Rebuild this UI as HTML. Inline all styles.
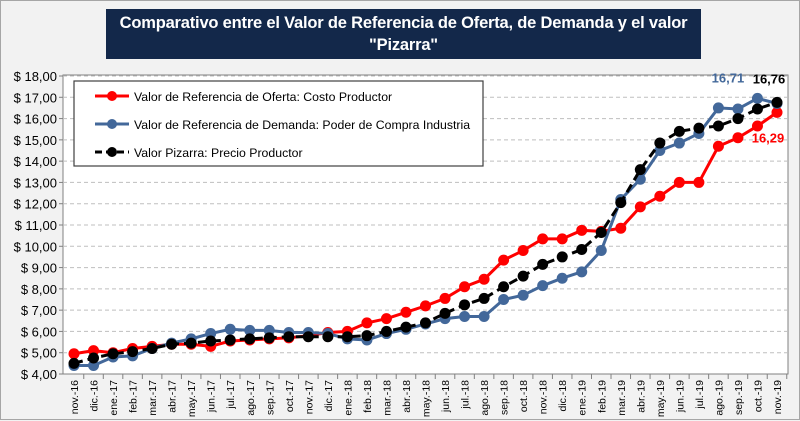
<!DOCTYPE html>
<html><head><meta charset="utf-8"><style>
body{margin:0;width:800px;height:420px;background:#f2f2f2;font-family:"Liberation Sans",sans-serif;overflow:hidden}
#wrap{position:absolute;left:0;top:0;width:798px;height:418px;border:1px solid #a6a6a6;background:#f2f2f2}
#title{position:absolute;left:105px;top:8px;width:595px;height:50px;background:#13284a;color:#fff;font-weight:bold;font-size:16.5px;text-align:center;line-height:22px;padding-top:3px;box-sizing:border-box;white-space:nowrap;letter-spacing:-0.2px}
svg{position:absolute;left:0;top:0}
</style></head><body>
<div id="wrap">
<div id="title">Comparativo entre el Valor de Referencia de Oferta, de Demanda y el valor<br>"Pizarra"</div>
<svg id="c" width="800" height="420"></svg>
</div>
<script>
const categories=["nov.-16","dic.-16","ene.-17","feb.-17","mar.-17","abr.-17","may.-17","jun.-17","jul.-17","ago.-17","sep.-17","oct.-17","nov.-17","dic.-17","ene.-18","feb.-18","mar.-18","abr.-18","may.-18","jun.-18","jul.-18","ago.-18","sep.-18","oct.-18","nov.-18","dic.-18","ene.-19","feb.-19","mar.-19","abr.-19","may.-19","jun.-19","jul.-19","ago.-19","sep.-19","oct.-19","nov.-19"];
const oferta=[4.95,5.1,5.0,5.2,5.3,5.4,5.4,5.3,5.55,5.6,5.65,5.7,5.8,5.95,6.0,6.4,6.6,6.9,7.2,7.55,8.1,8.45,9.35,9.8,10.35,10.35,10.75,10.7,10.85,11.85,12.35,13.0,13.0,14.7,15.1,15.65,16.29];
const demanda=[4.4,4.4,4.8,4.85,5.2,5.45,5.65,5.9,6.1,6.05,6.05,5.95,5.95,5.9,5.65,5.6,5.9,6.1,6.35,6.6,6.7,6.7,7.5,7.7,8.15,8.5,8.8,9.8,12.2,13.15,14.5,14.85,15.3,16.5,16.45,16.95,16.71];
const pizarra=[4.5,4.75,4.95,5.05,5.2,5.4,5.45,5.55,5.6,5.65,5.7,5.75,5.75,5.75,5.75,5.8,6.0,6.2,6.4,6.85,7.25,7.55,8.1,8.6,9.15,9.5,9.85,10.65,12.05,13.6,14.85,15.4,15.55,15.65,16.0,16.45,16.76];
const yTicks=[4,5,6,7,8,9,10,11,12,13,14,15,16,17,18];
const L=62,R=787,T=75,B=373,ymin=4,ymax=18;
const svg=document.getElementById('c'),NS='http://www.w3.org/2000/svg';
function x(i){return L+11+i*(R-L-22)/(categories.length-1);}
function y(v){return B-(v-ymin)/(ymax-ymin)*(B-T);}
function el(t,a,p){const e=document.createElementNS(NS,t);for(const k in a)e.setAttribute(k,a[k]);(p||svg).appendChild(e);return e;}
const bg=el('rect',{x:L,y:T-1,width:R-L,height:B-T+1,fill:'#fff',stroke:'#808080'});


yTicks.forEach(v=>{
 if(v>ymin){const g=el('line',{x1:L,x2:R,y1:y(v),y2:y(v),stroke:'#bfbfbf','stroke-dasharray':'4,3'});
 
 }
 const t=el('text',{x:56,y:y(v)+5,'text-anchor':'end','font-size':'13',fill:'#000'});
 t.textContent='$ '+v.toFixed(2).replace('.',',');
 
 
 el('line',{x1:L-4,x2:L,y1:y(v),y2:y(v),stroke:'#808080'});
});
categories.forEach((c,i)=>{
 const xx=x(i);
 el('line',{x1:xx+(R-L-22)/72,x2:xx+(R-L-22)/72,y1:B,y2:B+5,stroke:'#808080'});
 const t=el('text',{x:0,y:0,'font-size':'10.5',fill:'#000','text-anchor':'end',transform:`translate(${xx+4},${B+6}) rotate(-90)`});
 t.textContent=c;
 
 
});
function series(data,color,dash,name){
 const g=el('g',{});
 
 
 el('polyline',{points:data.map((v,i)=>x(i)+','+y(v)).join(' '),fill:'none',stroke:color,'stroke-width':3,'stroke-dasharray':dash||'none'},g);
 data.forEach((v,i)=>{const c=el('circle',{cx:x(i),cy:y(v),r:5.5,fill:color},g);
 
 });
}
series(oferta,'#ff0000','', 'series-oferta');
series(demanda,'#43689a','', 'series-demanda');
series(pizarra,'#000000','9,5','series-pizarra');
function lab(txt,xx,yy,col,n){const t=el('text',{x:xx,y:yy,'font-size':'13','font-weight':'bold',fill:col,'text-anchor':'middle'});t.textContent=txt;
 
 }
const n=categories.length-1;
lab('16,71',x(n-2)-10,y(demanda[n])-21,'#43689a','label-demanda-last');
lab('16,76',x(n)-8,y(pizarra[n])-19,'#000','label-pizarra-last');
lab('16,29',x(n)-9,y(oferta[n])+30,'#ff0000','label-oferta-last');
const lg=el('g',{});


el('rect',{x:73,y:80,width:409,height:85,fill:'#fff',stroke:'#404040','stroke-width':1.2},lg);
[['Valor de Referencia de Oferta: Costo Productor','#ff0000',''],['Valor de Referencia de Demanda: Poder de Compra Industria','#43689a',''],['Valor Pizarra: Precio Productor','#000','7,4']].forEach((d,i)=>{
 const yy=95+i*28;
 el('line',{x1:94,x2:128,y1:yy,y2:yy,stroke:d[1],'stroke-width':3,'stroke-dasharray':d[2]||'none'},lg);
 el('circle',{cx:111,cy:yy,r:5,fill:d[1]},lg);
 const t=el('text',{x:133,y:yy+5,'font-size':'12.3',fill:'#000'},lg);t.textContent=d[0];
 
 
});
</script>
</body></html>
